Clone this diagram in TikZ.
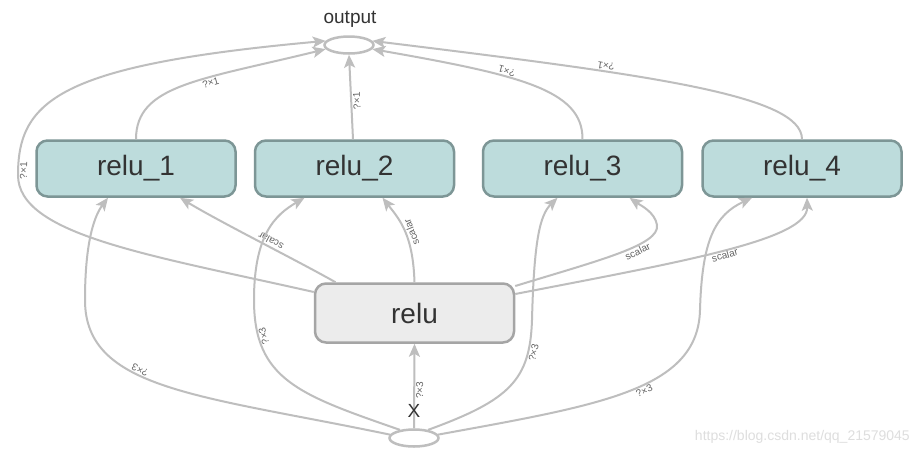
\documentclass[tikz,border=0pt]{standalone}
\usepackage{fontspec}
\setmainfont{Liberation Sans}
\usetikzlibrary{arrows.meta,shapes.geometric}
\definecolor{edgec}{RGB}{190,190,190}
\definecolor{tealfill}{RGB}{189,220,220}
\definecolor{tealline}{RGB}{125,150,150}
\definecolor{grayfill}{RGB}{236,236,236}
\definecolor{grayline}{RGB}{165,165,165}
\definecolor{txtc}{RGB}{51,51,51}
\definecolor{labc}{RGB}{100,100,100}
\definecolor{wmc}{RGB}{222,222,222}
\begin{document}
\begin{tikzpicture}[x=1pt,y=-1pt,
  opbox/.style={draw=tealline, fill=tealfill, line width=2.5pt, rounded corners=11pt,
    minimum width=199pt, minimum height=56pt, inner sep=0pt,
    font=\fontsize{28}{30}\selectfont, text=txtc},
  mainbox/.style={opbox, draw=grayline, fill=grayfill, minimum height=59pt},
  term/.style={ellipse, draw=edgec, fill=white, line width=2.5pt, minimum width=49pt,
    minimum height=17pt, inner sep=0pt},
  flow/.style={draw=edgec, line width=2pt, -{Stealth[length=13pt,width=11pt,inset=3pt]}},
  elab/.style={sloped, allow upside down, font=\fontsize{10}{10}\selectfont, text=labc,
    inner sep=1pt, below}
]
\useasboundingbox (0,0) rectangle (919,456);
\fill[white] (0,0) rectangle (919,456);

\node[term] (out) at (349,45) {};
\node[term] (xin) at (414,438) {};
\node[opbox] (r1) at (136,168.5) {relu\_1};
\node[opbox] (r2) at (354.5,168.5) {relu\_2};
\node[opbox] (r3) at (582.5,168.5) {relu\_3};
\node[opbox] (r4) at (802,168.5) {relu\_4};
\node[mainbox] (relu) at (414.5,313) {relu};

% to output
\draw[flow] (r1.north) .. controls (136,85) and (200,80) .. node[elab,pos=0.62] {?×1} (out.190);
\draw[flow] ([yshift=21pt]relu.west) .. controls (150,255) and (18,235) .. (18,175)
  .. controls (18,100) and (60,65) .. node[elab,pos=0.02] {?×1} (out.170);
\draw[flow] ([xshift=-1.5pt]r2.north) -- node[elab,pos=0.45] {?×1} (out.south);
\draw[flow] (r3.north) .. controls (583,90) and (520,75) .. node[elab,pos=0.62] {?×1} (out.350);
\draw[flow] (r4.north) .. controls (802,95) and (650,75) .. node[elab,pos=0.67] {?×1} (out.10);

% from relu
\draw[flow] ([xshift=-79pt]relu.north) .. controls (300,262) and (220,222) .. node[elab,pos=0.45] {scalar} ([xshift=44pt]r1.south);
\draw[flow] (relu.north) .. controls (413,235) and (400,220) .. node[elab,pos=0.45] {scalar} ([xshift=28pt]r2.south);
\draw[flow] ([yshift=27pt]relu.east) .. controls (600,260) and (660,245) .. node[elab,pos=0.62] {scalar} (657,225)
  .. controls (655,212) and (640,205) .. ([xshift=47pt]r3.south);
\draw[flow] ([yshift=19pt]relu.east) .. controls (680,262) and (808,240) .. node[elab,pos=0.5] {scalar} ([xshift=5pt]r4.south);

% from X
\draw[flow] (xin.north) -- node[elab,pos=0.45] {?×3} (relu.south);
\draw[flow] (xin.172) .. controls (200,395) and (85,390) .. node[elab,pos=0.6] {?×3} (85,300)
  .. controls (85,240) and (95,215) .. ([xshift=-28pt]r1.south);
\draw[flow] (xin.150) .. controls (300,395) and (254,380) .. node[elab,pos=0.82] {?×3} (254,300)
  .. controls (254,235) and (275,215) .. ([xshift=-50pt]r2.south);
\draw[flow] (xin.30) .. controls (510,400) and (530,380) .. node[elab,pos=0.8] {?×3} (532,320)
  .. controls (534,240) and (540,215) .. ([xshift=-25pt]r3.south);
\draw[flow] (xin.8) .. controls (600,405) and (698,390) .. node[elab,pos=0.55] {?×3} (700,310)
  .. controls (702,240) and (715,215) .. ([xshift=-50pt]r4.south);

\node[font=\fontsize{19}{19}\selectfont, text=txtc, inner sep=1pt] (outl) at (350,19) {output};
\node[font=\fontsize{19}{19}\selectfont, text=txtc, inner sep=0pt] (xl) at (414,411) {X};
\node[font=\fontsize{14}{14}\selectfont, text=wmc, anchor=east, inner sep=0pt] (wm) at (910,437) {https://blog.csdn.net/qq\_21579045};
\end{tikzpicture}
\end{document}
